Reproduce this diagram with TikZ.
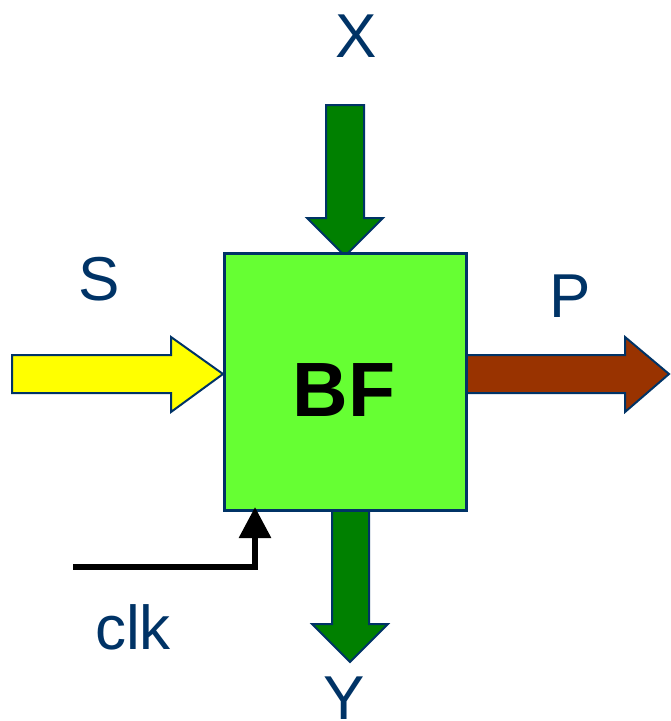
\documentclass[tikz,border=0pt]{standalone}
\usepackage{fontspec}
\setmainfont{Liberation Sans}
\usetikzlibrary{arrows.meta}
\definecolor{navy}{HTML}{003366}
\definecolor{boxgreen}{HTML}{66FF33}
\definecolor{pipegreen}{HTML}{008000}
\definecolor{pipeyellow}{HTML}{FFFF00}
\definecolor{pipebrown}{HTML}{993300}
\tikzset{
  pipe/.style={draw=navy, line width=2pt, line join=miter},
  lbl/.style={text=navy, font=\fontsize{62}{62}\selectfont, anchor=base, inner sep=0pt},
  block/.style={draw=navy, fill=boxgreen, line width=3pt, minimum width=242pt, minimum height=257pt, inner sep=0pt},
}
\begin{document}
\begin{tikzpicture}[x=1pt, y=-1pt]
\useasboundingbox (0,0) rectangle (671,721);
% block arrows
\draw[pipe, fill=pipegreen] (326,105) -- (364,105) -- (364,218) -- (383,218) -- (345,256) -- (307,218) -- (326,218) -- cycle;
\draw[pipe, fill=pipeyellow] (12,355) -- (171,355) -- (171,337) -- (223,374) -- (171,412) -- (171,393) -- (12,393) -- cycle;
\draw[pipe, fill=pipebrown] (466,355) -- (625,355) -- (625,337) -- (669,374) -- (625,412) -- (625,393) -- (466,393) -- cycle;
\draw[pipe, fill=pipegreen] (332,510) -- (369,510) -- (369,624) -- (388,624) -- (350,662) -- (312,624) -- (332,624) -- cycle;
% the block
\node[block] (bf) at (345,381.5) {};
\node[anchor=base, inner sep=0pt, font=\fontsize{77}{77}\selectfont\bfseries] (bflabel) at (344,416) {BF};
% clock input
\coordinate (clkin) at (73,567);
\coordinate (clkpin) at (255,507);
\draw[line width=6pt, -{Triangle[length=31pt, width=31pt]}] (clkin) -| (clkpin);
% labels
\node[lbl] (x) at (356,57) {X};
\node[lbl] (s) at (99,300) {S};
\node[lbl] (p) at (570,317) {P};
\node[lbl] (clk) at (133,649) {clk};
\node[lbl] (y) at (344,719) {Y};
\end{tikzpicture}
\end{document}
